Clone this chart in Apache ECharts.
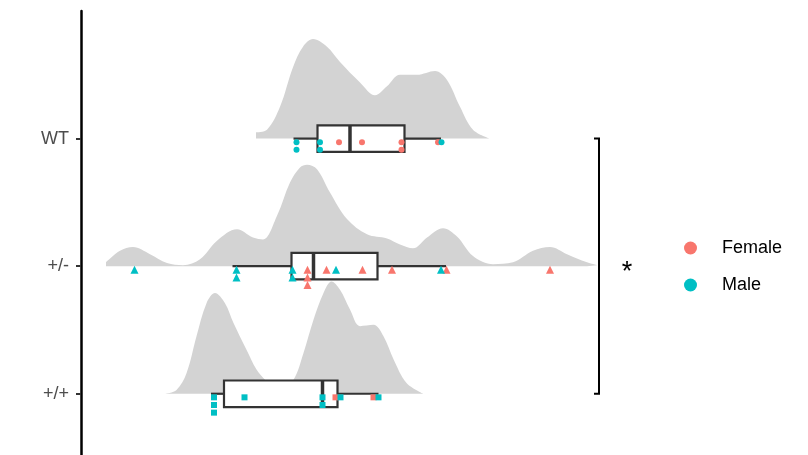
<!DOCTYPE html>
<html><head><meta charset="utf-8">
<script src="https://cdn.jsdelivr.net/npm/echarts@6/dist/echarts.min.js"></script>
<style>html,body{margin:0;padding:0;background:#fff}#c{width:808px;height:455px}</style>
</head><body><div id="c"></div>
<script>
// ---- data ----
const categories = ['+/+', '+/-', 'WT'];          // y positions 1, 2, 3
const shapes = ['rect', 'triangle', 'circle'];

// density curves: [x, density height]
const densityPP = [[16.8,0],[19.1,0.03],[21.1,0.16],[23.1,0.45],[25.1,0.71],[26.8,0.79],[28.8,0.71],[30.5,0.555],[33.1,0.345],[35.1,0.19],[36.8,0.11],[38.2,0.06],[40.2,0.05],[42.5,0.11],[44.5,0.32],[46.5,0.58],[48.5,0.79],[50.1,0.88],[51.8,0.815],[53.8,0.66],[55.8,0.53],[58.5,0.54],[60.5,0.45],[62.5,0.27],[65.1,0.085],[68.5,0]];
const densityPM = [[5.0,0.03],[7.8,0.12],[10.4,0.15],[13.8,0.094],[17.2,0.024],[20.4,0.008],[23.8,0.055],[27.2,0.2],[31.2,0.29],[34.4,0.225],[36.4,0.21],[39.2,0.395],[41.8,0.656],[43.8,0.774],[45.2,0.795],[47.2,0.76],[49.8,0.578],[53.2,0.37],[57.2,0.25],[61.2,0.217],[63.8,0.17],[66.4,0.14],[69.2,0.225],[72.4,0.298],[75.2,0.233],[78.4,0.08],[82.4,0.016],[86.4,0.03],[90.4,0.12],[93.8,0.15],[97.2,0.094],[101.2,0.03],[103.2,0.008]];
const densityWT = [[35.0,0.05],[37.2,0.07],[39.8,0.25],[42.4,0.56],[44.4,0.72],[46.4,0.78],[49.2,0.72],[51.8,0.6],[55.8,0.44],[58.8,0.34],[61.2,0.41],[63.8,0.5],[67.2,0.5],[70.8,0.53],[73.2,0.46],[75.8,0.25],[78.4,0.07],[81.8,0]];

// box stats: [min, Q1, median, Q3, max]
const boxPP = [26.0, 28.6, 48.3, 51.3, 59.5];
const boxPM = [30.3, 42.1, 46.5, 59.3, 73.0];
const boxWT = [42.5, 47.3, 53.8, 64.7, 72.0];

// raw points
const femalePP = [50.9, 58.5];
const malePP   = [26.6, 26.6, 26.6, 32.7, 48.3, 48.3, 51.9, 59.5];
const femalePM = [45.3, 45.3, 45.3, 49.1, 56.3, 62.2, 73.1, 93.8];
const malePM   = [10.7, 31.1, 31.1, 42.3, 42.3, 51.0, 72.0];
const femaleWT = [51.6, 56.2, 64.1, 64.1, 71.4];
const maleWT   = [43.1, 43.1, 47.8, 47.8, 72.1];

const comparisons = [['WT', '+/+', '*']];

// ---- layout / style constants ----
const FEMALE = '#F8766D', MALE = '#00BFC4';
const ROW0 = 0.028, ROW_STEP = 0.06, BOX_HALF = 0.104, BRACKET_X = 103.6;
const FONT = 'Liberation Sans, Arial, sans-serif';
const symSize = { circle: 6, triangle: 8, rect: 6 };

const densities = [densityPP, densityPM, densityWT];
const boxes = [boxPP, boxPM, boxWT];
const females = [femalePP, femalePM, femaleWT];
const males = [malePP, malePM, maleWT];

// stack identical x values downward under each baseline
const femaleData = [], maleData = [];
categories.forEach((cat, gi) => {
  const base = gi + 1;
  const counts = {};
  const place = (x, arr) => {
    const k = counts[x] || 0; counts[x] = k + 1;
    const s = shapes[gi];
    arr.push({ value: [x, base - ROW0 - k * ROW_STEP], symbol: s, symbolSize: symSize[s] });
  };
  females[gi].forEach(x => place(x, femaleData));
  males[gi].forEach(x => place(x, maleData));
});

const series = [];
densities.forEach((d, gi) => {
  const base = gi + 1;
  series.push({
    type: 'line', silent: true, smooth: 0.35, symbol: 'none', z: 1,
    data: d.map(p => [p[0], base + p[1]]),
    lineStyle: { width: 0, opacity: 0 },
    areaStyle: { color: '#D3D3D3', opacity: 1, origin: base }
  });
});

series.push({
  type: 'custom', silent: true, z: 2,
  data: boxes.map((b, gi) => [gi + 1].concat(b)),
  encode: { y: 0, x: [1, 2, 3, 4, 5] },
  renderItem(params, api) {
    const y = api.value(0);
    const c = [1, 2, 3, 4, 5].map(i => api.coord([api.value(i), y]));
    const half = api.size([0, BOX_HALF])[1];
    const yc = c[0][1];
    const st = { stroke: '#333333', lineWidth: 2.2 };
    return { type: 'group', children: [
      { type: 'line', shape: { x1: c[0][0], y1: yc, x2: c[1][0], y2: yc }, style: st },
      { type: 'line', shape: { x1: c[3][0], y1: yc, x2: c[4][0], y2: yc }, style: st },
      { type: 'rect', shape: { x: c[1][0], y: yc - half, width: c[3][0] - c[1][0], height: 2 * half },
        style: { stroke: '#333333', lineWidth: 2.2, fill: '#ffffff' } },
      { type: 'line', shape: { x1: c[2][0], y1: yc - half, x2: c[2][0], y2: yc + half },
        style: { stroke: '#333333', lineWidth: 3.5 } }
    ]};
  }
});

series.push({ name: 'Female', type: 'scatter', z: 3, itemStyle: { color: FEMALE, opacity: 1 }, data: femaleData });
series.push({ name: 'Male', type: 'scatter', z: 4, itemStyle: { color: MALE, opacity: 1 }, data: maleData });

series.push({
  type: 'custom', silent: true, z: 5,
  data: comparisons.map(c => [categories.indexOf(c[0]) + 1, categories.indexOf(c[1]) + 1]),
  renderItem(params, api) {
    const yA = api.value(0), yB = api.value(1);
    const pA = api.coord([BRACKET_X, yA]), pB = api.coord([BRACKET_X, yB]);
    const pM = api.coord([BRACKET_X, (yA + yB) / 2]);
    const label = comparisons[params.dataIndex][2];
    return { type: 'group', children: [
      { type: 'polyline', shape: { points: [[pA[0] - 5, pA[1]], pA, pB, [pB[0] - 5, pB[1]]] },
        style: { stroke: '#000', lineWidth: 2, fill: null } },
      { type: 'text', x: pM[0] + 28, y: pM[1] + 6,
        style: { text: label, fontSize: 27, fontFamily: FONT, fill: '#000', align: 'center', verticalAlign: 'middle' } }
    ]};
  }
});

const chart = echarts.init(document.getElementById('c'), null, { renderer: 'canvas' });
chart.setOption({
  animation: false,
  backgroundColor: '#ffffff',
  grid: { left: 80, right: 208, top: 11, bottom: 0, containLabel: false },
  xAxis: { type: 'value', min: -0.2, max: 103.8, show: false },
  yAxis: {
    type: 'value', min: 0.52, max: 4.0,
    axisLine: { show: true, lineStyle: { color: '#000', width: 2.5 } },
    axisTick: { show: true, length: 5, customValues: [1, 2, 3], lineStyle: { color: '#333333', width: 2 } },
    axisLabel: { show: true, customValues: [1, 2, 3], margin: 11, fontSize: 18, color: '#4D4D4D', fontFamily: FONT,
      formatter: v => categories[Math.round(v) - 1] || '' },
    splitLine: { show: false }
  },
  legend: {
    orient: 'vertical', left: 679, top: 234, itemWidth: 13, itemHeight: 13, itemGap: 19,
    data: [{ name: 'Female', icon: 'circle' }, { name: 'Male', icon: 'circle' }],
    textStyle: { fontSize: 18, color: '#000', fontFamily: FONT, padding: [0, 0, 0, 20] }
  },
  series
});
</script></body></html>
